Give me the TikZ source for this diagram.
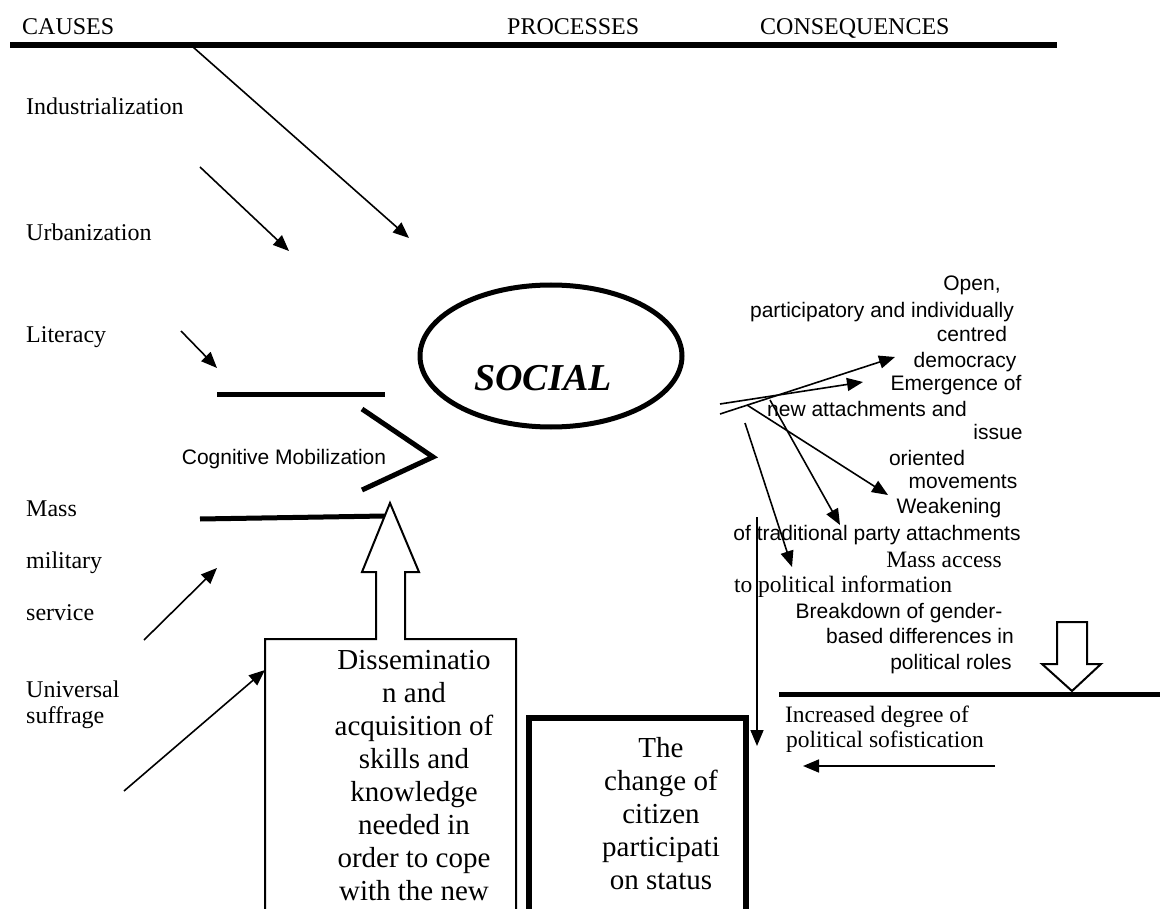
\documentclass[tikz,border=0pt]{standalone}
\usepackage{fontspec}
\setmainfont{Liberation Serif}
\newfontfamily\arialfont{Liberation Sans}
\usetikzlibrary{arrows.meta,shapes.geometric}

\tikzset{
  >={Triangle[length=16pt,width=13pt]},
  thinarrow/.style={->, line width=1.6pt},
  heavy/.style={line width=5pt, line cap=butt},
  hollow/.style={draw, line width=2pt, fill=white, line join=miter},
  headtext/.style={font=\fontsize{24}{27}\selectfont, anchor=base west, inner sep=0pt},
  causetext/.style={font=\fontsize{24}{27}\selectfont, anchor=base west, inner sep=0pt},
  sansline/.style={font=\arialfont\fontsize{21}{25}\selectfont, inner sep=0pt,
    text height=15pt, text depth=4pt},
  serifline/.style={font=\fontsize{23.5}{27}\selectfont, inner sep=0pt,
    text height=15pt, text depth=5pt},
  boxtext/.style={font=\fontsize{29}{33}\selectfont, align=center, inner sep=0pt, anchor=north},
  socialring/.style={ellipse, draw, line width=5pt, inner sep=0pt,
    minimum width=262pt, minimum height=142pt},
  socialtext/.style={font=\fontsize{38}{42}\selectfont\bfseries\itshape, inner sep=0pt}
}

\begin{document}
\begin{tikzpicture}[x=1pt,y=-1pt]
  \useasboundingbox[fill=white] (0,0) rectangle (1160,909);

  % header
  \node[headtext] (causes)       at (22,35)  {CAUSES};
  \node[headtext] (processes)    at (507,35) {PROCESSES};
  \node[headtext] (consequences) at (760,35) {CONSEQUENCES};
  \coordinate (headl) at (10,45);
  \coordinate (headr) at (1057,45);
  \draw[heavy, line width=5.5pt] (headl) -- (headr);

  % causes
  \node[causetext] (ind)  at (26,115) {Industrialization};
  \node[causetext] (urb)  at (26,241) {Urbanization};
  \node[causetext] (lit)  at (26,343) {Literacy};
  \node[causetext] (mass) at (26,516) {Mass};
  \node[causetext] (mil)  at (26,568) {military};
  \node[causetext] (serv) at (26,620) {service};
  \node[causetext] (univ) at (26,697) {Universal};
  \node[causetext] (suff) at (26,723) {suffrage};

  \coordinate (a1s) at (193,47);  \coordinate (a1e) at (409,238);
  \coordinate (a2s) at (200,167); \coordinate (a2e) at (289,251);
  \coordinate (a3s) at (181,331); \coordinate (a3e) at (217,368);
  \coordinate (a4s) at (144,640); \coordinate (a4e) at (217,568);
  \coordinate (a5s) at (124,791); \coordinate (a5e) at (265,670);

  % cognitive mobilization
  \coordinate (bt1) at (217,395); \coordinate (bt2) at (385,395);
  \coordinate (bl1) at (200,519); \coordinate (bl2) at (385,516);
  \coordinate (ch1) at (362,409); \coordinate (ch2) at (433,457); \coordinate (ch3) at (362,490);
  \draw[heavy] (bt1) -- (bt2);
  \draw[heavy, line join=miter] (ch1) -- (ch2) -- (ch3);
  \draw[heavy] (bl1) -- (bl2);
  \node[sansline] (cogmob) at (284,459) {Cognitive Mobilization};

  % dissemination box with hollow arrow
  \draw[hollow] (265,915) -- (265,639) -- (376,639) -- (376,572) -- (362,572) -- (390,503)
    -- (419,572) -- (405,572) -- (405,639) -- (516,639) -- (516,915);
  \node[boxtext] (dissem) at (414,650)
    {Disseminatio\\n and\\acquisition of\\skills and\\knowledge\\needed in\\order to cope\\with the new};

  \draw[thinarrow] (a1s) -- (a1e);
  \draw[thinarrow] (a2s) -- (a2e);
  \draw[thinarrow] (a3s) -- (a3e);
  \draw[thinarrow] (a4s) -- (a4e);
  \draw[thinarrow] (a5s) -- (a5e);

  % social
  \node[socialring] (social) at (551,356) {};
  \node[socialtext] (socialtxt) at (543,378) {SOCIAL};

  % citizen box
  \draw[line width=6pt, line join=miter] (529,930) -- (529,718) -- (746,718) -- (746,930);
  \node[boxtext] (citizen) at (661,737) {The\\change of\\citizen\\participati\\on status};

  % consequences
  \node[sansline] (dem1) at (972,285) {Open,};
  \node[sansline] (dem2) at (882,312) {participatory and individually};
  \node[sansline] (dem3) at (972,336) {centred};
  \node[sansline] (dem4) at (965,362) {democracy};
  \node[sansline] (emg1) at (956,385) {Emergence of};
  \node[sansline] (emg2) at (867,411) {new attachments and};
  \node[sansline] (emg3) at (998,434) {issue};
  \node[sansline] (emg4) at (927,460) {oriented};
  \node[sansline] (emg5) at (963,483) {movements};
  \node[sansline] (weak1) at (949,508) {Weakening};
  \node[sansline] (weak2) at (877,535) {of traditional party attachments};
  \node[serifline] (acc1) at (944,562) {Mass access};
  \node[serifline] (acc2) at (843,587) {to political information};
  \node[sansline] (gen1) at (899,613) {Breakdown of gender-};
  \node[sansline] (gen2) at (920,638) {based differences in};
  \node[sansline] (gen3) at (951,664) {political roles};

  \coordinate (f1s) at (720,414); \coordinate (f1e) at (895,357);
  \coordinate (f2s) at (720,404); \coordinate (f2e) at (863,382);
  \coordinate (f3s) at (747,405); \coordinate (f3e) at (888,495);
  \coordinate (f4s) at (770,400); \coordinate (f4e) at (840,525);
  \coordinate (f5s) at (745,423); \coordinate (f5e) at (792,567);
  \draw[thinarrow] (f1s) -- (f1e);
  \draw[thinarrow] (f2s) -- (f2e);
  \draw[thinarrow] (f3s) -- (f3e);
  \draw[thinarrow] (f4s) -- (f4e);
  \draw[thinarrow] (f5s) -- (f5e);

  \coordinate (vs) at (757,517); \coordinate (ve) at (757,746);
  \draw[thinarrow] (vs) -- (ve);

  % sophistication
  \coordinate (rl1) at (779,694); \coordinate (rl2) at (1160,694);
  \draw[heavy] (rl1) -- (rl2);
  \draw[hollow] (1057,622) -- (1087,622) -- (1087,664) -- (1101,664) -- (1072,691)
    -- (1042,664) -- (1057,664) -- cycle;
  \node[serifline] (soph1) at (877,717) {Increased degree of};
  \node[serifline] (soph2) at (885,742) {political sofistication};
  \coordinate (ls) at (995,766); \coordinate (le) at (803,766);
  \draw[thinarrow] (ls) -- (le);
\end{tikzpicture}
\end{document}
